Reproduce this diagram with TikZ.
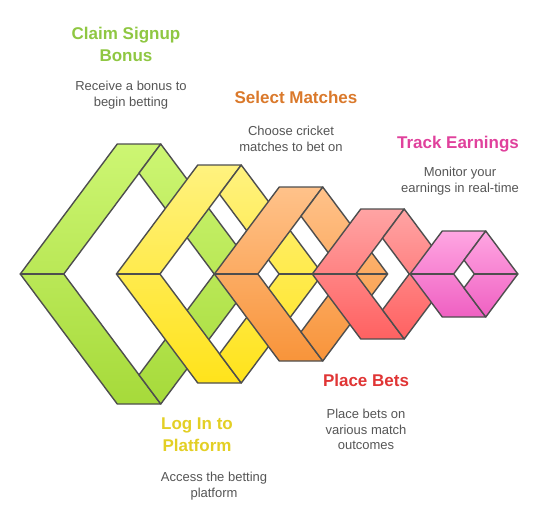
\documentclass[tikz,border=0pt]{standalone}
\usepackage{fontspec}
\setmainfont{Liberation Sans}
\usepackage{xcolor}
\usepackage{tikz}

\definecolor{edge}{HTML}{4E4E4E}
\definecolor{txtgray}{HTML}{555555}
\definecolor{grnA}{HTML}{CDF673}
\definecolor{grnB}{HTML}{A6DA3A}
\definecolor{ylwA}{HTML}{FFF27F}
\definecolor{ylwB}{HTML}{FFE31B}
\definecolor{orgA}{HTML}{FFC28A}
\definecolor{orgB}{HTML}{F8943A}
\definecolor{redA}{HTML}{FFA4A4}
\definecolor{redB}{HTML}{FF6161}
\definecolor{pnkA}{HTML}{FFA6E2}
\definecolor{pnkB}{HTML}{EF60C2}
\definecolor{grnT}{HTML}{8FC742}
\definecolor{ylwT}{HTML}{E3CF25}
\definecolor{orgT}{HTML}{DA792B}
\definecolor{redT}{HTML}{E03535}
\definecolor{pnkT}{HTML}{E0419C}

\tikzset{
  band/.style={draw=edge, line width=1.4pt, line join=round},
  crease/.style={draw=edge, line width=1.4pt, line cap=round},
  ttl/.style={font=\fontsize{17}{21.5}\selectfont\bfseries, align=center, inner sep=0pt, anchor=north},
  dsc/.style={font=\fontsize{13}{15.5}\selectfont, text=txtgray, align=center, inner sep=0pt, anchor=north}
}

\begin{document}
\begin{tikzpicture}[x=1pt,y=-1pt]
				\useasboundingbox (0,0) rectangle (553,528);
				\def\w{43.5}
				\def\k{0.746}
				% rings, from left to right, each one over the last
				\foreach \n/\cx/\h/\c in
				{1/139/130/grn, 2/219.5/109/ylw, 3/301/87/org, 4/382.5/65/red, 5/464/43/pnk}{
					\coordinate (L\n) at ({\cx-\w/2-\h*\k},274);
					\coordinate (R\n) at ({\cx+\w/2+\h*\k},274);
					\coordinate (TA\n) at ({\cx-\w/2},{274-\h});
					\coordinate (TB\n) at ({\cx+\w/2},{274-\h});
					\coordinate (BA\n) at ({\cx-\w/2},{274+\h});
					\coordinate (BB\n) at ({\cx+\w/2},{274+\h});
					\coordinate (IL\n) at ({\cx+\w/2-\h*\k},274);
					\coordinate (IR\n) at ({\cx-\w/2+\h*\k},274);
					\coordinate (HT\n) at (\cx,{274-\h+\w/(2*\k)});
					\coordinate (HB\n) at (\cx,{274+\h-\w/(2*\k)});
					
					\draw[band, top color=\c A, bottom color=\c B]
						(L\n) -- (TA\n) -- (TB\n) -- (IL\n) -- (BB\n) -- (BA\n) -- cycle;
					\draw[band, top color=\c A, bottom color=\c B]
						(TB\n) -- (R\n) -- (BB\n) -- (HB\n) -- (IR\n) -- (HT\n) -- cycle;
					\draw[crease] (L\n) -- (IL\n) (IR\n) -- (R\n);
				}
				
				% labels (top)
				\node[ttl, text=grnT] (t1) at (126,27) {Claim Signup\\Bonus};
				\node[dsc] (d1) at (131,81) {Receive a bonus to\\begin betting};
				\node[ttl, text=orgT] (t3) at (296,91) {Select Matches};
				\node[dsc] (d3) at (291,126) {Choose cricket\\matches to bet on};
				\node[ttl, text=pnkT] (t5) at (458,136) {Track Earnings};
				\node[dsc] (d5) at (460,167) {Monitor your\\earnings in real-time};
				
				% labels (bottom)
				\node[ttl, text=ylwT] (t2) at (197,418) {Log In to\\Platform};
				\node[dsc] (d2) at (214,472) {Access the betting\\platform};
				\node[ttl, text=redT] (t4) at (366,374) {Place Bets};
				\node[dsc] (d4) at (366,409) {Place bets on\\various match\\outcomes};
\end{tikzpicture}
\end{document}
